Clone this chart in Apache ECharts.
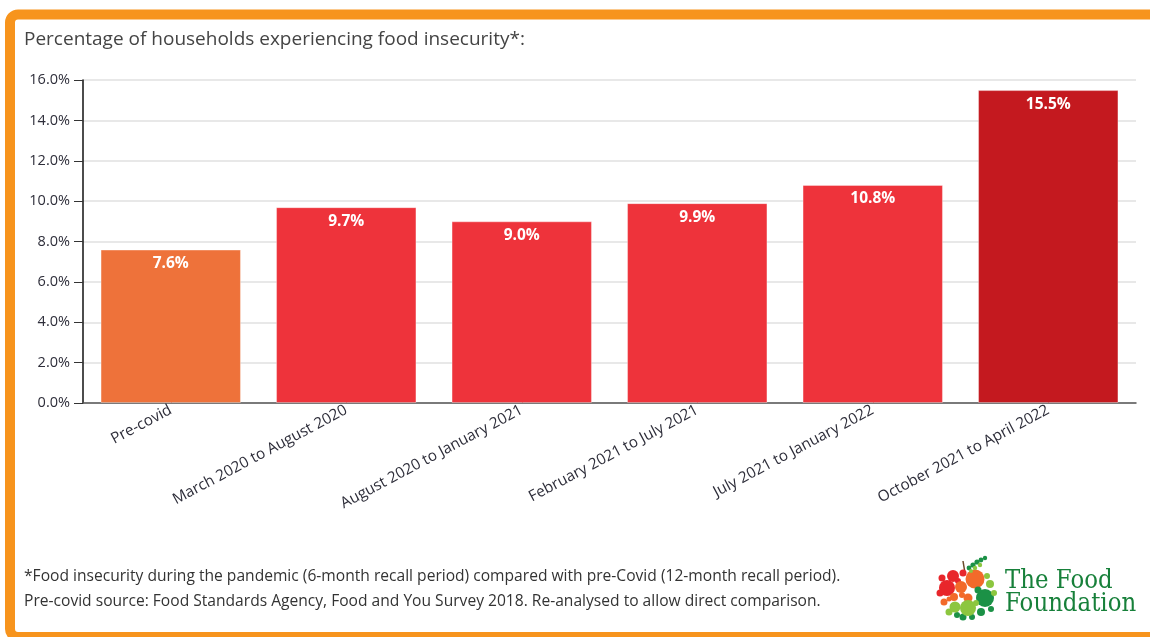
<!DOCTYPE html>
<html>
<head>
<meta charset="utf-8">
<script src="https://cdn.jsdelivr.net/npm/echarts@6/dist/echarts.min.js"></script>
<style>
html,body{margin:0;padding:0;background:#fff;}
#c{width:1150px;height:637px;}
</style>
</head>
<body>
<div id="c"></div>
<script>
var categories = ['Pre-covid','March 2020 to August 2020','August 2020 to January 2021','February 2021 to July 2021','July 2021 to January 2022','October 2021 to April 2022'];
var values = [7.6, 9.7, 9.0, 9.9, 10.8, 15.5];
var barColors = ['#EE723A','#EE333B','#EE333B','#EE333B','#EE333B','#C4191F'];
var yTicks = {min:0, max:16, interval:2};
var titleText = 'Percentage of households experiencing food insecurity*:';
var footLines = ['*Food insecurity during the pandemic (6-month recall period) compared with pre-Covid (12-month recall period).',
                 'Pre-covid source: Food Standards Agency, Food and You Survey 2018. Re-analysed to allow direct comparison.'];

var FONT = '"Open Sans"';
var chart = echarts.init(document.getElementById('c'), null, {renderer:'canvas'});

// decorative logo circles (apple)
var appleDots = [
  [947,588,8,'#E8262B'],[953,576,6,'#E8262B'],[942,578,3.5,'#E8262B'],[963,573,3.5,'#E8262B'],[940,593,3.5,'#E8262B'],[958,581,3,'#E8262B'],
  [975,579,9.5,'#F26A2A'],[961,587,6,'#F26A2A'],[968,598,4.5,'#F26A2A'],[944,602,3.5,'#F26A2A'],[954,597,4,'#F26A2A'],[962,595,3,'#F26A2A'],[949,599,2.5,'#F26A2A'],
  [985,598,9,'#1B9146'],[978,590,3.5,'#1B9146'],[963,617,3.5,'#1B9146'],[981,612,4,'#1B9146'],[972,617,3,'#1B9146'],[957,615,3,'#1B9146'],[991,609,3,'#1B9146'],
  [968,608,8,'#8CC63F'],[955,607,5.5,'#8CC63F'],[990,584,4,'#8CC63F'],[987,576,3,'#8CC63F'],[994,593,3,'#8CC63F'],[949,612,3.5,'#8CC63F'],[976,603,3,'#8CC63F'],
  [969,568,2.4,'#1B9146'],[973,565,2.6,'#1B9146'],[977,562,2.6,'#1B9146'],[981,560,2.4,'#1B9146'],[985,558,2.2,'#1B9146'],[975,568,2.2,'#8CC63F'],[980,565,2.2,'#8CC63F'],[971,571,2,'#8CC63F']
];
var graphics = [
  {type:'rect', shape:{x:10,y:14.5,width:1200,height:622.5,r:8}, style:{fill:'none',stroke:'#F7941D',lineWidth:10}, z:-1},
  {type:'text', left:24, top:30, style:{text:titleText, font:'19px '+FONT, fill:'#444'}},
  {type:'text', left:24, top:569, style:{text:footLines[0], font:'15.6px '+FONT, fill:'#333'}},
  {type:'text', left:24, top:594, style:{text:footLines[1], font:'15.6px '+FONT, fill:'#333'}},
  {type:'line', shape:{x1:963,y1:561,x2:965,y2:573}, style:{stroke:'#6b4a2b',lineWidth:1.5}},
  {type:'text', x:1005, y:568, scaleX:0.88, style:{text:'The Food', font:'26px "DejaVu Serif"', fill:'#17803A', textVerticalAlign:'top'}},
  {type:'text', x:1005, y:591, scaleX:0.88, style:{text:'Foundation', font:'26px "DejaVu Serif"', fill:'#17803A', textVerticalAlign:'top'}}
];
appleDots.forEach(function(d){
  graphics.push({type:'circle', shape:{cx:d[0],cy:d[1],r:d[2]}, style:{fill:d[3]}});
});

chart.setOption({
  animation:false,
  backgroundColor:'#fff',
  grid:{left:83, right:14, top:80, bottom:234, containLabel:false},
  xAxis:{
    type:'category', data:categories,
    axisLine:{lineStyle:{color:'#555',width:1.5}},
    axisTick:{show:true, inside:true, alignWithLabel:true, length:8, lineStyle:{color:'#8a2020'}},
    axisLabel:{rotate:28, interval:0, fontFamily:FONT, fontSize:15.3, color:'#2e2e3a', margin:6}
  },
  yAxis:{
    type:'value', min:yTicks.min, max:yTicks.max, interval:yTicks.interval,
    axisLine:{show:true, lineStyle:{color:'#111',width:1.5}},
    axisTick:{show:true, length:9, lineStyle:{color:'#333'}},
    axisLabel:{fontFamily:FONT, fontSize:14.5, color:'#2e2e3a', margin:13, formatter:function(v){return v.toFixed(1)+'%';}},
    splitLine:{lineStyle:{color:'#e0e0e0',width:1.5}}
  },
  series:[{
    type:'bar',
    data:values.map(function(v,i){return {value:v, itemStyle:{color:barColors[i]}};}),
    barCategoryGap:'20%',
    itemStyle:{borderColor:'rgba(255,255,255,0.35)', borderWidth:1},
    label:{show:true, position:'insideTop', distance:6, color:'#fff', fontFamily:FONT, fontWeight:'bold', fontSize:15.5,
      formatter:function(p){return p.value.toFixed(1)+'%';}}
  }],
  graphic:graphics
});
</script>
</body>
</html>
